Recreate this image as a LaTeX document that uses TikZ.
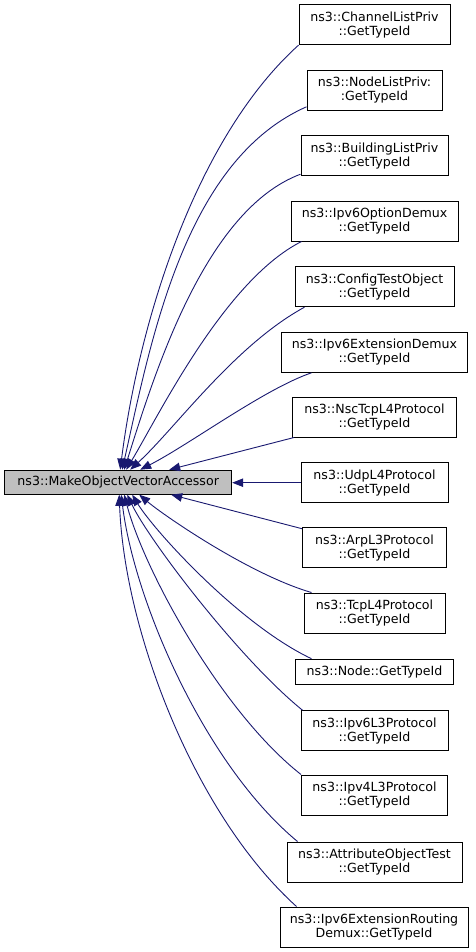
\documentclass[tikz,border=0pt]{standalone}
\usepackage{fontspec}
\setmainfont{DejaVu Sans}
\usetikzlibrary{arrows.meta}
\definecolor{edgeblue}{RGB}{25,25,112}
\definecolor{maingray}{RGB}{191,191,191}
\begin{document}
\begin{tikzpicture}[x=1pt,y=-1pt,
  box/.style={draw=black, line width=1pt, fill=white, inner sep=0pt, align=center,
    font=\fontsize{12.6}{14}\selectfont, minimum height=40pt},
  link/.style={draw=edgeblue, line width=0.9pt, -{Triangle[length=11pt,width=8.5pt]}}]
\useasboundingbox (0,0) rectangle (475,952);
% nodes
\node[box, fill=maingray, minimum width=227pt, minimum height=24pt] (main) at (118.2,482.2) {ns3::MakeObjectVectorAccessor};
\node[box, minimum width=151pt] (n1) at (374.5,24.7) {ns3::ChannelListPriv\\::GetTypeId};
\node[box, minimum width=135pt] (n2) at (374.5,90.3) {ns3::NodeListPriv:\\:GetTypeId};
\node[box, minimum width=147pt] (n3) at (374.5,155.7) {ns3::BuildingListPriv\\::GetTypeId};
\node[box, minimum width=167pt] (n4) at (374.5,221) {ns3::Ipv6OptionDemux\\::GetTypeId};
\node[box, minimum width=159pt] (n5) at (374.5,286.7) {ns3::ConfigTestObject\\::GetTypeId};
\node[box, minimum width=186pt] (n6) at (374.5,352.3) {ns3::Ipv6ExtensionDemux\\::GetTypeId};
\node[box, minimum width=164pt] (n7) at (374.5,417) {ns3::NscTcpL4Protocol\\::GetTypeId};
\node[box, minimum width=147pt] (n8) at (374.5,482.7) {ns3::UdpL4Protocol\\::GetTypeId};
\node[box, minimum width=144pt] (n9) at (374.5,547.7) {ns3::ArpL3Protocol\\::GetTypeId};
\node[box, minimum width=141pt] (n10) at (374.5,613) {ns3::TcpL4Protocol\\::GetTypeId};
\node[box, minimum width=158pt, minimum height=25pt] (n11) at (374.5,671.7) {ns3::Node::GetTypeId};
\node[box, minimum width=147pt] (n12) at (374.5,730.7) {ns3::Ipv6L3Protocol\\::GetTypeId};
\node[box, minimum width=146pt] (n13) at (374.5,795) {ns3::Ipv4L3Protocol\\::GetTypeId};
\node[box, minimum width=175pt] (n14) at (374.5,862) {ns3::AttributeObjectTest\\::GetTypeId};
\node[box, minimum width=188pt] (n15) at (374,927) {ns3::Ipv6ExtensionRouting\\Demux::GetTypeId};
% edges (upper)
\draw[link] (n1.south west) .. controls +(-102,92) and +(19,-150) .. ([xshift=116pt]main.north west);
\draw[link] ([yshift=4pt]n2.south west) .. controls +(-122,54) and +(29,-130) .. ([xshift=118pt]main.north west);
\draw[link] ([yshift=2pt]n3.south west) .. controls +(-96,36) and +(30,-95) .. ([xshift=120pt]main.north west);
\draw[link] ([xshift=11pt]n4.south west) .. controls +(-77,39) and +(33,-55) .. ([xshift=122pt]main.north west);
\draw[link] ([xshift=10pt]n5.south west) .. controls +(-70,38) and +(44,-40) .. ([xshift=126pt]main.north west);
\draw[link] ([xshift=30.5pt]n6.south west) .. controls +(-47,16) and +(49,-25) .. ([xshift=136pt]main.north west);
\draw[link] ([xshift=2pt]n7.south west) -- ([xshift=165pt]main.north west);
\draw[link] (n8.west) -- (n8.west -| main.east);
% edges (lower)
\draw[link] ([yshift=-1.5pt]n9.north west) -- ([xshift=167pt]main.south west);
\draw[link] ([xshift=8pt]n10.north west) .. controls +(-62,-18) and +(25,21) .. ([xshift=135pt]main.south west);
\draw[link] ([xshift=16.5pt]n11.north west) .. controls +(-72,-34) and +(22,36) .. ([xshift=128pt]main.south west);
\draw[link] ([xshift=2pt]n12.north west) .. controls +(-63,-51) and +(22,46) .. ([xshift=123pt]main.south west);
\draw[link] (n13.north west) .. controls +(-80,-63) and +(20,76) .. ([xshift=120pt]main.south west);
\draw[link] ([xshift=11pt]n14.north west) .. controls +(-93,-77) and +(13,106) .. ([xshift=117pt]main.south west);
\draw[link] ([xshift=17pt]n15.north west) .. controls +(-102,-92) and +(5,136) .. ([xshift=115pt]main.south west);
\end{tikzpicture}
\end{document}
